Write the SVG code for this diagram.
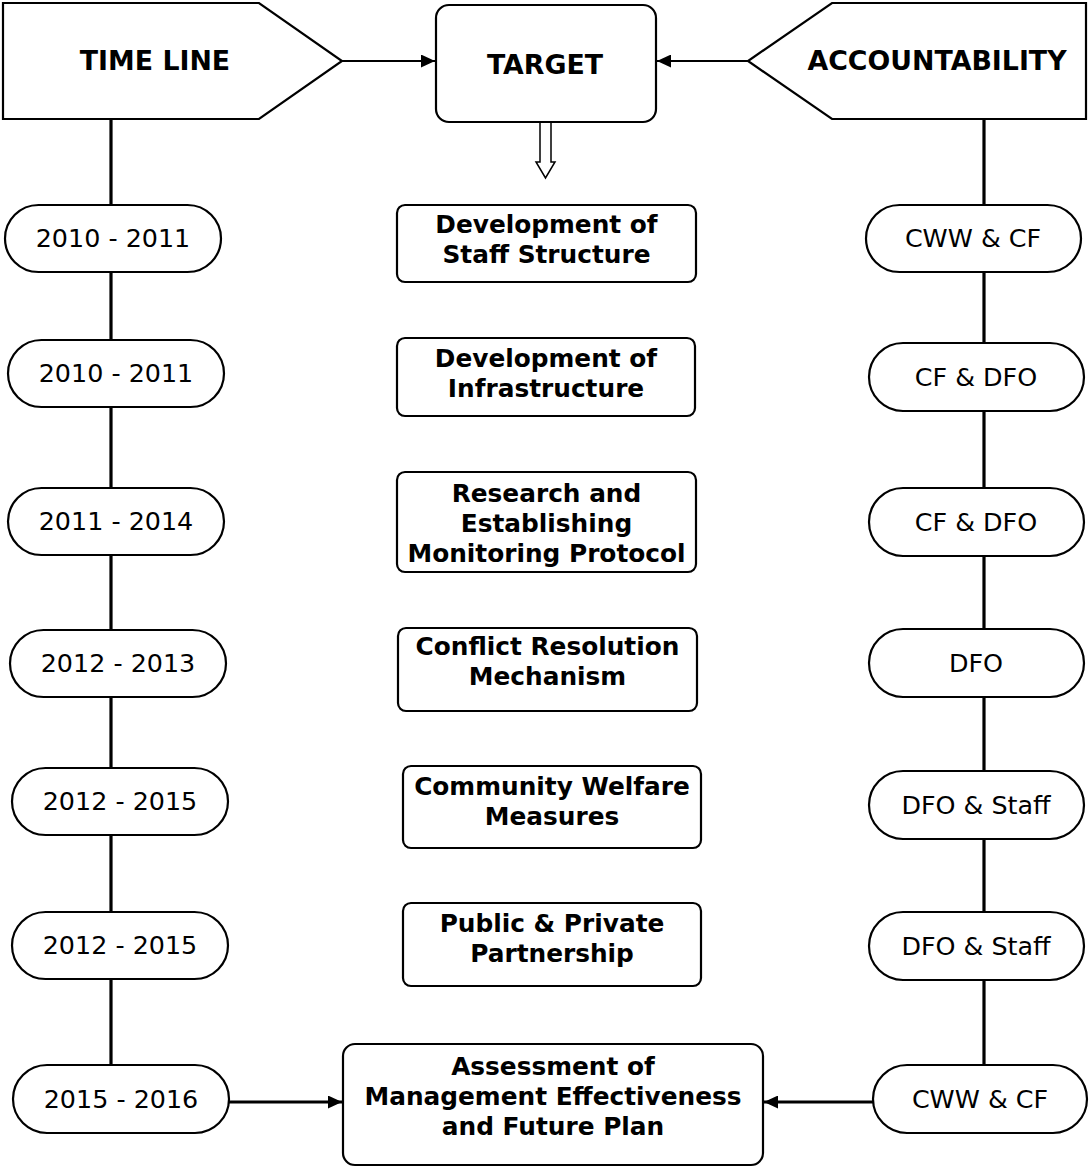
<svg xmlns="http://www.w3.org/2000/svg" width="1089" height="1167" viewBox="0 0 1089 1167">
<defs>
<style>
.shape{fill:#fff;stroke:#000;stroke-width:2.2}
.line{fill:none;stroke:#000;stroke-width:3.2}
.arr{fill:none;stroke:#000;stroke-width:2}
.hd{font-family:"DejaVu Sans",Verdana,sans-serif;font-weight:bold;font-size:26.8px;text-anchor:middle;fill:#000}
.bx{font-family:"DejaVu Sans",Verdana,sans-serif;font-weight:bold;font-size:24.8px;text-anchor:middle;fill:#000}
.st{font-family:"DejaVu Sans",Verdana,sans-serif;font-size:25.4px;text-anchor:middle;fill:#000}
</style>
<marker id="ah" viewBox="0 0 10 10" refX="10" refY="5" markerWidth="14" markerHeight="13" markerUnits="userSpaceOnUse" orient="auto" preserveAspectRatio="none">
<path d="M0,0 L10,5 L0,10 z" fill="#000"/>
</marker>
</defs>
<rect width="1089" height="1167" fill="#fff"/>
<g id="connectors">
<line class="line" x1="111" y1="119" x2="111" y2="1065"/>
<line class="line" x1="984" y1="119" x2="984" y2="1065"/>
<line class="arr" x1="342" y1="61" x2="435" y2="61" marker-end="url(#ah)"/>
<line class="arr" x1="748" y1="61" x2="657" y2="61" marker-end="url(#ah)"/>
<polygon points="540,122 551,122 551,162 555,162 545.5,178 536,162 540,162" fill="#fff" stroke="#000" stroke-width="1.5"/>
<line class="line" x1="229" y1="1102" x2="342" y2="1102" marker-end="url(#ah)"/>
<line class="line" x1="873" y1="1102" x2="764" y2="1102" marker-end="url(#ah)"/>
</g>
<g id="timeline-header">
<polygon class="shape" points="3,3 259,3 342,61 259,119 3,119"/>
<text class="hd" x="155" y="70">TIME LINE</text>
</g>
<g id="target-header">
<rect class="shape" x="436" y="5" width="220" height="117" rx="13"/>
<text class="hd" x="545" y="74">TARGET</text>
</g>
<g id="accountability-header">
<polygon class="shape" points="1086,3 832,3 748,61 832,119 1086,119"/>
<text class="hd" x="937" y="70">ACCOUNTABILITY</text>
</g>
<g id="t1"><rect class="shape" x="5" y="205" width="216" height="67" rx="33.5"/><text class="st" x="113" y="247">2010 - 2011</text></g>
<g id="t2"><rect class="shape" x="8" y="340" width="216" height="67" rx="33.5"/><text class="st" x="116" y="382">2010 - 2011</text></g>
<g id="t3"><rect class="shape" x="8" y="488" width="216" height="67" rx="33.5"/><text class="st" x="116" y="530">2011 - 2014</text></g>
<g id="t4"><rect class="shape" x="10" y="630" width="216" height="67" rx="33.5"/><text class="st" x="118" y="672">2012 - 2013</text></g>
<g id="t5"><rect class="shape" x="12" y="768" width="216" height="67" rx="33.5"/><text class="st" x="120" y="810">2012 - 2015</text></g>
<g id="t6"><rect class="shape" x="12" y="912" width="216" height="67" rx="33.5"/><text class="st" x="120" y="954">2012 - 2015</text></g>
<g id="t7"><rect class="shape" x="13" y="1065" width="216" height="68" rx="34"/><text class="st" x="121" y="1108">2015 - 2016</text></g>
<g id="a1"><rect class="shape" x="866" y="205" width="215" height="67" rx="33.5"/><text class="st" x="973" y="247">CWW &amp; CF</text></g>
<g id="a2"><rect class="shape" x="869" y="343" width="215" height="68" rx="34"/><text class="st" x="976" y="386">CF &amp; DFO</text></g>
<g id="a3"><rect class="shape" x="869" y="488" width="215" height="68" rx="34"/><text class="st" x="976" y="531">CF &amp; DFO</text></g>
<g id="a4"><rect class="shape" x="869" y="629" width="215" height="68" rx="34"/><text class="st" x="976" y="672">DFO</text></g>
<g id="a5"><rect class="shape" x="869" y="771" width="215" height="68" rx="34"/><text class="st" x="976" y="814">DFO &amp; Staff</text></g>
<g id="a6"><rect class="shape" x="869" y="912" width="215" height="68" rx="34"/><text class="st" x="976" y="955">DFO &amp; Staff</text></g>
<g id="a7"><rect class="shape" x="873" y="1065" width="214" height="68" rx="34"/><text class="st" x="980" y="1108">CWW &amp; CF</text></g>
<g id="b1"><rect class="shape" x="397" y="205" width="299" height="77" rx="8"/><text class="bx" x="546.5" y="233">Development of</text><text class="bx" x="546.5" y="263">Staff Structure</text></g>
<g id="b2"><rect class="shape" x="397" y="338" width="298" height="78" rx="8"/><text class="bx" x="546" y="367">Development of</text><text class="bx" x="546" y="397">Infrastructure</text></g>
<g id="b3"><rect class="shape" x="397" y="472" width="299" height="100" rx="8"/><text class="bx" x="546.5" y="502">Research and</text><text class="bx" x="546.5" y="532">Establishing</text><text class="bx" x="546.5" y="562">Monitoring Protocol</text></g>
<g id="b4"><rect class="shape" x="398" y="628" width="299" height="83" rx="8"/><text class="bx" x="547.5" y="655">Conflict Resolution</text><text class="bx" x="547.5" y="685">Mechanism</text></g>
<g id="b5"><rect class="shape" x="403" y="766" width="298" height="82" rx="8"/><text class="bx" x="552" y="795">Community Welfare</text><text class="bx" x="552" y="825">Measures</text></g>
<g id="b6"><rect class="shape" x="403" y="903" width="298" height="83" rx="8"/><text class="bx" x="552" y="932">Public &amp; Private</text><text class="bx" x="552" y="962">Partnership</text></g>
<g id="b7"><rect class="shape" x="343" y="1044" width="420" height="121" rx="12"/><text class="bx" x="553" y="1075">Assessment of</text><text class="bx" x="553" y="1105">Management Effectiveness</text><text class="bx" x="553" y="1135">and Future Plan</text></g>
</svg>
